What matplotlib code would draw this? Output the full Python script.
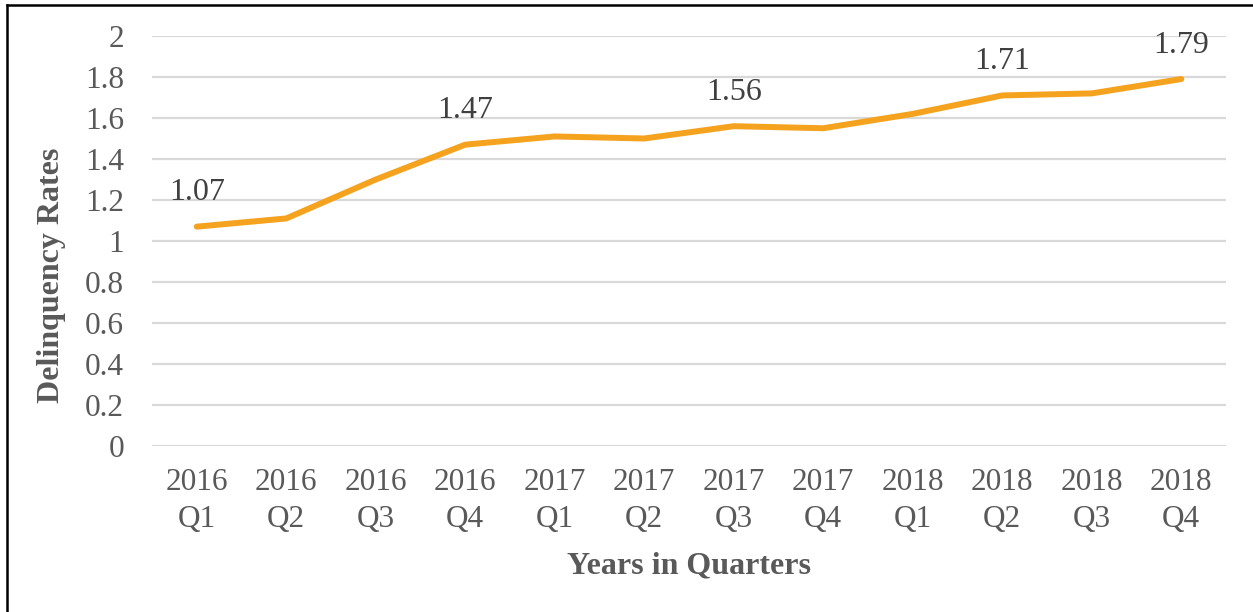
import matplotlib.pyplot as plt
from matplotlib.lines import Line2D

# -----------------------------
# Data
# -----------------------------
quarters = ["2016\nQ1", "2016\nQ2", "2016\nQ3", "2016\nQ4",
            "2017\nQ1", "2017\nQ2", "2017\nQ3", "2017\nQ4",
            "2018\nQ1", "2018\nQ2", "2018\nQ3", "2018\nQ4"]
rates = [1.07, 1.11, 1.30, 1.47, 1.51, 1.50, 1.56, 1.55, 1.62, 1.71, 1.72, 1.79]
labelled = [0, 3, 6, 9, 11]   # points that carry a value label
y_ticks = [0, 0.2, 0.4, 0.6, 0.8, 1, 1.2, 1.4, 1.6, 1.8, 2]

plt.rcParams["font.family"] = ["Liberation Serif", "DejaVu Serif"]

fig = plt.figure(figsize=(12.53, 6.12), dpi=100)
ax = fig.add_axes([0.1213, 0.2712, 0.8572, 0.67])

x = list(range(len(rates)))
ax.plot(x, rates, color="#F5A21F", linewidth=4.3, solid_capstyle="round", zorder=3)

for i in labelled:
    ax.annotate(f"{rates[i]:.2f}", (x[i], rates[i]), xytext=(0, 14),
                textcoords="offset points", ha="center", va="bottom",
                fontsize=23, color="#404040")

ax.set_xlim(-0.5, len(rates) - 0.5)
ax.set_ylim(0, 2)
ax.set_yticks(y_ticks)
ax.set_yticklabels([f"{v:g}" for v in y_ticks])
ax.set_xticks(x)
ax.set_xticklabels(quarters, linespacing=1.35)
ax.tick_params(axis="both", length=0, labelsize=22.5, labelcolor="#595959")
ax.tick_params(axis="y", pad=20)
ax.tick_params(axis="x", pad=16)

ax.grid(axis="y", color="#D9D9D9", linewidth=1.6)
ax.set_axisbelow(True)
for s in ax.spines.values():
    s.set_visible(False)

ax.set_xlabel("Years in Quarters", fontsize=23, fontweight="bold", color="#595959")
ax.set_ylabel("Delinquency Rates", fontsize=23, fontweight="bold", color="#595959")
ax.xaxis.set_label_coords(0.5, -0.258)
ax.yaxis.set_label_coords(-0.08, 0.417)

# frame lines at left and top of the picture
fig.add_artist(Line2D([0.0056, 0.0056], [0, 0.992], transform=fig.transFigure,
                      color="black", linewidth=1.8))
fig.add_artist(Line2D([0.0056, 1], [0.992, 0.992], transform=fig.transFigure,
                      color="black", linewidth=1.8))

fig.savefig("out.png", dpi=100)
